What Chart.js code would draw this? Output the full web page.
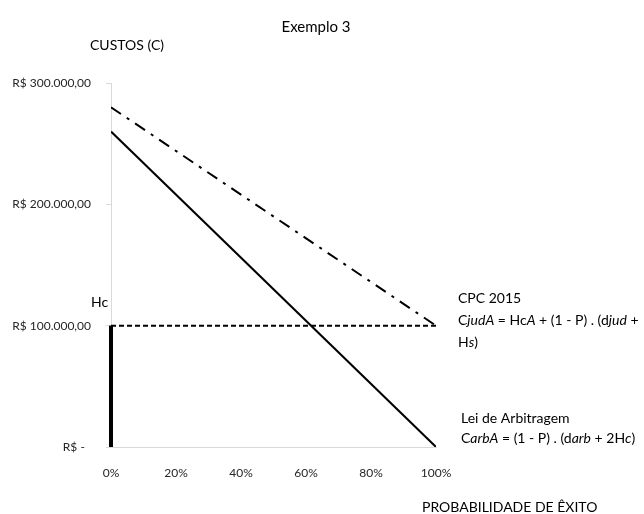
<!DOCTYPE html>
<html>
<head>
<meta charset="utf-8">
<script src="https://cdn.jsdelivr.net/npm/chart.js@4/dist/chart.umd.min.js"></script>
<style>
  html, body { margin: 0; padding: 0; background: #ffffff; }
  #wrap { width: 644px; height: 514px; }
</style>
</head>
<body>
<div id="wrap"><canvas id="grafico" width="644" height="514"></canvas></div>
<script>
// Probabilidade de êxito (P) nos extremos do eixo
const probabilidade = [0, 1];
// Custo pela Lei de Arbitragem: CarbA = (1 - P) . (darb + 2Hc)
const custoArbitragem = [260000, 0];
// Custo pelo CPC 2015: CjudA = HcA + (1 - P) . (djud + Hs)
const custoCPC = [280000, 100000];
// Honorários contratuais Hc
const honorariosHc = [100000, 100000];
// Segmento vertical de Hc em P = 0
const hcVerticalX = [0, 0];
const hcVerticalY = [0, 100000];

const yTicks = [0, 100000, 200000, 300000];
const yTickLabels = ['R$ -  ', 'R$ 100.000,00', 'R$ 200.000,00', 'R$ 300.000,00'];
const xTicks = [0, 0.2, 0.4, 0.6, 0.8, 1];
const xTickLabels = ['0%', '20%', '40%', '60%', '80%', '100%'];

const FONT = 'Lato, "Open Sans", sans-serif';

function pontos(xs, ys) {
  return xs.map((x, i) => ({ x: x, y: ys[i] }));
}

// Desenha um texto composto de trechos normais e itálicos
function textoMisto(ctx, partes, x, y, size) {
  let cx = x;
  partes.forEach(([txt, it]) => {
    ctx.font = (it ? 'italic ' : '') + size + 'px ' + FONT;
    ctx.fillText(txt, cx, y);
    cx += ctx.measureText(txt).width;
  });
}

const textos = {
  id: 'textos',
  afterDraw(chart) {
    const ctx = chart.ctx;
    ctx.save();
    ctx.fillStyle = '#000000';
    ctx.textBaseline = 'middle';

    ctx.textAlign = 'center';
    ctx.font = '15px ' + FONT;
    ctx.fillText('Exemplo 3', 316, 27);

    ctx.textAlign = 'left';
    ctx.font = '14px ' + FONT;
    ctx.fillText('CUSTOS (C)', 90, 45);

    ctx.font = '14px ' + FONT;
    ctx.fillText('Hc', 91, 302);

    ctx.font = '14px ' + FONT;
    ctx.fillText('CPC 2015', 458, 298);
    textoMisto(ctx, [['C', false], ['judA', true], [' = Hc', false], ['A', true],
      [' + (1 - P) . (d', false], ['jud', true], [' +', false]], 458, 320, 14);
    textoMisto(ctx, [['H', false], ['s', true], [')', false]], 458, 342, 14);

    ctx.font = '14px ' + FONT;
    ctx.fillText('Lei de Arbitragem', 461, 418);
    textoMisto(ctx, [['C', false], ['arbA', true], [' = (1 - P) . (d', false], ['arb', true],
      [' + 2H', false], ['c', true], [')', false]], 461, 438, 14);

    ctx.font = '14px ' + FONT;
    ctx.fillText('PROBABILIDADE DE ÊXITO', 422, 507);
    ctx.restore();
  }
};

new Chart(document.getElementById('grafico'), {
  type: 'line',
  data: {
    datasets: [
      {
        label: 'Lei de Arbitragem',
        data: pontos(probabilidade, custoArbitragem),
        borderColor: '#000000',
        borderWidth: 2,
        pointRadius: 0,
        tension: 0
      },
      {
        label: 'CPC 2015',
        data: pontos(probabilidade, custoCPC),
        borderColor: '#000000',
        borderWidth: 2,
        borderDash: [12, 7, 3, 7],
        pointRadius: 0,
        tension: 0
      },
      {
        label: 'Hc',
        data: pontos(probabilidade, honorariosHc),
        borderColor: '#000000',
        borderWidth: 2,
        borderDash: [5, 3],
        pointRadius: 0,
        tension: 0
      },
      {
        label: 'Hc (P = 0)',
        data: pontos(hcVerticalX, hcVerticalY),
        borderColor: '#000000',
        borderWidth: 4,
        pointRadius: 0,
        tension: 0,
        clip: false
      }
    ]
  },
  options: {
    responsive: false,
    animation: false,
    layout: { padding: { left: 0, right: 208, top: 83, bottom: 37 } },
    plugins: {
      legend: { display: false },
      tooltip: { enabled: false }
    },
    scales: {
      x: {
        type: 'linear',
        min: 0,
        max: 1,
        afterFit(scale) { scale.height = 30; },
        afterBuildTicks(scale) { scale.ticks = xTicks.map(v => ({ value: v })); },
        ticks: {
          padding: 11,
          color: '#262626',
          font: { family: FONT, size: 12 },
          callback: (v) => xTickLabels[xTicks.indexOf(v)]
        },
        grid: { display: false },
        border: { display: true, color: '#d9d9d9', width: 1 }
      },
      y: {
        min: 0,
        max: 300000,
        afterFit(scale) { scale.width = 111; },
        afterBuildTicks(scale) { scale.ticks = yTicks.map(v => ({ value: v })); },
        ticks: {
          padding: 15,
          color: '#262626',
          font: { family: FONT, size: 12 },
          callback: (v) => yTickLabels[yTicks.indexOf(v)]
        },
        grid: {
          display: true,
          drawOnChartArea: false,
          drawTicks: true,
          tickLength: 5,
          color: '#d9d9d9'
        },
        border: { display: true, color: '#d9d9d9', width: 1 }
      }
    }
  },
  plugins: [textos]
});
</script>
</body>
</html>
